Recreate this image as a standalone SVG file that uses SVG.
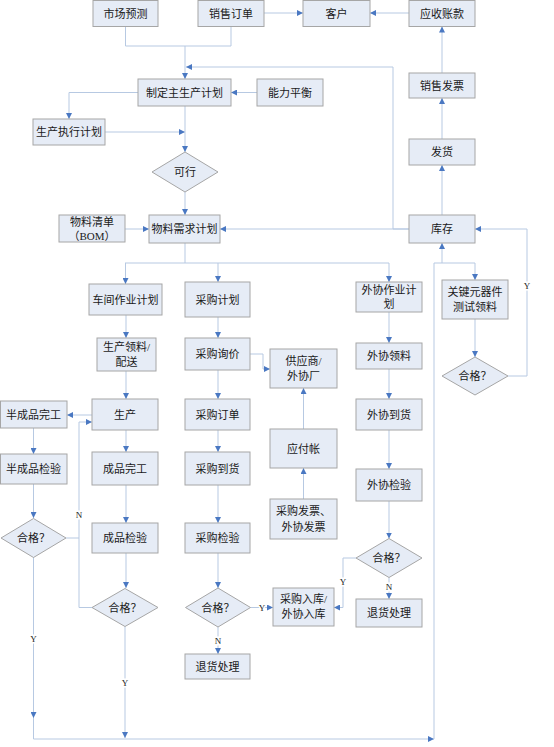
<svg xmlns="http://www.w3.org/2000/svg" width="554" height="747" viewBox="0 0 554 747">
<style>
.b{fill:#E6ECF6;stroke:#A6A6A6;stroke-width:1}
.t{font-family:"Liberation Serif","Noto Sans CJK SC",serif;font-size:11px;fill:#1a1a1a;text-anchor:middle}
.l{font-family:"Liberation Serif","Noto Sans CJK SC",serif;font-size:9px;fill:#1a1a1a;text-anchor:middle;stroke:#fff;stroke-width:3px;paint-order:stroke}
.c path{fill:none;stroke:#B7C9E2;stroke-width:1}
.c path.a{marker-end:url(#ah)}
</style>
<defs>
<marker id="ah" markerUnits="userSpaceOnUse" markerWidth="6" markerHeight="6" refX="6" refY="3" orient="auto">
<path d="M0,0 L6,3 L0,6 z" fill="#4A78C2"/>
</marker>
</defs>
<rect width="554" height="747" fill="#fff"/>
<g class="c" id="connectors">
<path d="M125.5,26.5 V46 H231 V26.5"/>
<path class="a" d="M185,46 V79"/>
<path d="M409,229 H393 V67 H230"/>
<path class="a" d="M230,67 H186"/>
<path class="a" d="M409,229 H220"/>
<path class="a" d="M257,92.5 H231"/>
<path class="a" d="M138,92.5 H69 V119"/>
<path class="a" d="M105,132 H185"/>
<path class="a" d="M185,106 V152"/>
<path class="a" d="M185,192 V215"/>
<path class="a" d="M125,229 H149"/>
<path d="M185,243 V263 M125,263 H389"/>
<path class="a" d="M125.5,263 V284"/>
<path class="a" d="M218,263 V282"/>
<path class="a" d="M389,263 V282"/>
<path class="a" d="M126,315 V338"/>
<path class="a" d="M126,371 V399"/>
<path class="a" d="M92,415 H67"/>
<path class="a" d="M126,430 V452"/>
<path class="a" d="M126,485 V523"/>
<path class="a" d="M126,553 V588"/>
<path class="a" d="M33.5,428 V454"/>
<path class="a" d="M33.5,484 V518"/>
<path class="a" d="M66,538 H79 V422 H92"/>
<path d="M92,607.5 H79 V538"/>
<path class="a" d="M33.5,557 V718"/>
<path class="a" d="M33.5,718 V739 H434"/>
<path class="a" d="M125,626.5 V738"/>
<path class="a" d="M218,317 V338"/>
<path class="a" d="M218,370 V399"/>
<path class="a" d="M218,430 V452"/>
<path class="a" d="M218,485 V523"/>
<path class="a" d="M218,553 V588"/>
<path class="a" d="M218,627 V654"/>
<path class="a" d="M250.5,607.5 H273"/>
<path class="a" d="M250,354 H263 V369 H270"/>
<path class="a" d="M303.5,499 V468"/>
<path class="a" d="M303.5,429 V388"/>
<path class="a" d="M389,312 V343"/>
<path class="a" d="M389,369 V399"/>
<path class="a" d="M389,430 V469"/>
<path class="a" d="M389,501 V538.5"/>
<path class="a" d="M389,577.5 V599"/>
<path class="a" d="M356,558 H343 V607.5 H334"/>
<path class="a" d="M434,739 V263 H442 V243"/>
<path class="a" d="M442,263 H475 V280"/>
<path class="a" d="M475,319 V357"/>
<path class="a" d="M508,376 H527 V229 H475"/>
<path class="a" d="M442,215 V165"/>
<path class="a" d="M442,139 V98"/>
<path class="a" d="M442,73 V26.5"/>
<path class="a" d="M264,13 H303"/>
<path class="a" d="M409,13 H370"/>
<text class="l" x="79" y="518">N</text>
<text class="l" x="33.5" y="642">Y</text>
<text class="l" x="125" y="686">Y</text>
<text class="l" x="218" y="644">N</text>
<text class="l" x="262" y="610.5">Y</text>
<text class="l" x="343" y="585">Y</text>
<text class="l" x="389" y="590">N</text>
<text class="l" x="527" y="289">Y</text>
</g>
<g id="n_scyc"><rect class="b" x="93" y="0.5" width="65" height="26"/><text class="t" x="125.5" y="17.5">市场预测</text></g>
<g id="n_xsdd"><rect class="b" x="198" y="0.5" width="66" height="26"/><text class="t" x="231" y="17.5">销售订单</text></g>
<g id="n_kh"><rect class="b" x="303" y="0.5" width="67" height="26"/><text class="t" x="336.5" y="17.5">客户</text></g>
<g id="n_yszk"><rect class="b" x="409" y="0.5" width="66" height="26"/><text class="t" x="442" y="17.5">应收账款</text></g>
<g id="n_zdzsc"><rect class="b" x="138" y="79" width="93" height="27"/><text class="t" x="184.5" y="96.5">制定主生产计划</text></g>
<g id="n_nlph"><rect class="b" x="257" y="79" width="66" height="27"/><text class="t" x="290" y="96.5">能力平衡</text></g>
<g id="n_xsfp"><rect class="b" x="409" y="73" width="66" height="25"/><text class="t" x="442" y="89.5">销售发票</text></g>
<g id="n_scjx"><rect class="b" x="33" y="119" width="72" height="26"/><text class="t" x="69" y="136">生产执行计划</text></g>
<g id="n_fh"><rect class="b" x="409" y="139" width="66" height="26"/><text class="t" x="442" y="156">发货</text></g>
<g id="n_kx"><polygon class="b" points="185,152 218,172 185,192 152,172"/><text class="t" x="185" y="176">可行</text></g>
<g id="n_bom"><rect class="b" x="59" y="215" width="66" height="27"/><text class="t" x="92" y="226">物料清单</text><text class="t" x="92" y="240">（BOM）</text></g>
<g id="n_mrp"><rect class="b" x="149" y="215" width="71" height="28"/><text class="t" x="184.5" y="233">物料需求计划</text></g>
<g id="n_kc"><rect class="b" x="409" y="215" width="66" height="28"/><text class="t" x="442" y="233">库存</text></g>
<g id="n_cjzy"><rect class="b" x="89" y="284" width="73" height="31"/><text class="t" x="125.5" y="303.5">车间作业计划</text></g>
<g id="n_cgjh"><rect class="b" x="185" y="282" width="65" height="35"/><text class="t" x="217.5" y="303.5">采购计划</text></g>
<g id="n_wxzy"><rect class="b" x="356" y="282" width="66" height="30"/><text class="t" x="389" y="294">外协作业计</text><text class="t" x="389" y="308">划</text></g>
<g id="n_gjyq"><rect class="b" x="442" y="280" width="66" height="39"/><text class="t" x="475" y="296">关键元器件</text><text class="t" x="475" y="311">测试领料</text></g>
<g id="n_scll"><rect class="b" x="97" y="338" width="59" height="33"/><text class="t" x="126.5" y="351">生产领料/</text><text class="t" x="126.5" y="366">配送</text></g>
<g id="n_cgxj"><rect class="b" x="185" y="338" width="65" height="32"/><text class="t" x="217.5" y="358">采购询价</text></g>
<g id="n_wxll"><rect class="b" x="356" y="343" width="66" height="26"/><text class="t" x="389" y="360">外协领料</text></g>
<g id="n_gys"><rect class="b" x="270" y="349" width="67" height="39"/><text class="t" x="303.5" y="365">供应商/</text><text class="t" x="303.5" y="380">外协厂</text></g>
<g id="n_hg_r"><polygon class="b" points="475,357 508,376 475,395 442,376"/><text class="t" x="475" y="380">合格？</text></g>
<g id="n_bcpwg"><rect class="b" x="0.5" y="401" width="66.5" height="27"/><text class="t" x="33.5" y="418.5">半成品完工</text></g>
<g id="n_sc"><rect class="b" x="92" y="399" width="66" height="31"/><text class="t" x="125" y="418.5">生产</text></g>
<g id="n_cgdd"><rect class="b" x="185" y="399" width="65" height="31"/><text class="t" x="217.5" y="418.5">采购订单</text></g>
<g id="n_wxdh"><rect class="b" x="356" y="399" width="66" height="31"/><text class="t" x="389" y="418.5">外协到货</text></g>
<g id="n_yfz"><rect class="b" x="270" y="429" width="67" height="39"/><text class="t" x="303.5" y="452.5">应付帐</text></g>
<g id="n_bcpjy"><rect class="b" x="0.5" y="454" width="66.5" height="30"/><text class="t" x="33.5" y="473">半成品检验</text></g>
<g id="n_cpwg"><rect class="b" x="92" y="452" width="66" height="33"/><text class="t" x="125" y="472.5">成品完工</text></g>
<g id="n_cgdh"><rect class="b" x="185" y="452" width="65" height="33"/><text class="t" x="217.5" y="472.5">采购到货</text></g>
<g id="n_wxjy"><rect class="b" x="356" y="469" width="66" height="32"/><text class="t" x="389" y="489">外协检验</text></g>
<g id="n_fp"><rect class="b" x="270" y="499" width="67" height="40"/><text class="t" x="303.5" y="515">采购发票、</text><text class="t" x="303.5" y="531">外协发票</text></g>
<g id="n_hg_l"><polygon class="b" points="33.5,518.5 66,538 33.5,557.5 1,538"/><text class="t" x="33.5" y="542">合格？</text></g>
<g id="n_cpjy"><rect class="b" x="92" y="523" width="66" height="30"/><text class="t" x="125" y="542">成品检验</text></g>
<g id="n_cgjy"><rect class="b" x="185" y="523" width="65" height="30"/><text class="t" x="217.5" y="542">采购检验</text></g>
<g id="n_hg_wx"><polygon class="b" points="389,538.5 422,558 389,577.5 356,558"/><text class="t" x="389" y="562">合格？</text></g>
<g id="n_hg_m"><polygon class="b" points="125,588.5 158,607.5 125,626.5 92,607.5"/><text class="t" x="125" y="611.5">合格？</text></g>
<g id="n_hg_cg"><polygon class="b" points="218,588 250.5,607.5 218,627 185.5,607.5"/><text class="t" x="218" y="611.5">合格？</text></g>
<g id="n_rk"><rect class="b" x="273" y="588" width="61" height="38"/><text class="t" x="303.5" y="603">采购入库/</text><text class="t" x="303.5" y="618">外协入库</text></g>
<g id="n_th_wx"><rect class="b" x="356" y="599" width="66" height="28"/><text class="t" x="389" y="617">退货处理</text></g>
<g id="n_th_cg"><rect class="b" x="185" y="654" width="65" height="25"/><text class="t" x="217.5" y="670.5">退货处理</text></g>
</svg>
